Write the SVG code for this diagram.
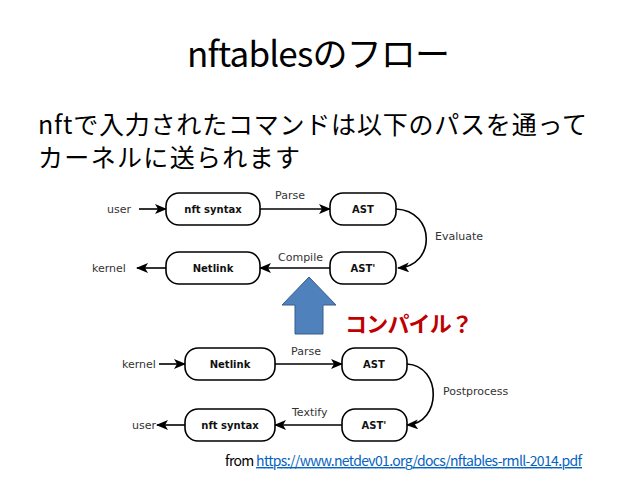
<svg xmlns="http://www.w3.org/2000/svg" width="638" height="479" viewBox="0 0 638 479">
<style>
.jp{font-family:"Noto Sans CJK JP","Noto Sans",sans-serif;fill:#000}
.box{fill:#fff;stroke:#000;stroke-width:1.6}
.bl{font-family:"DejaVu Sans",sans-serif;font-weight:bold;font-size:10px;text-anchor:middle;fill:#111}
.el{font-family:"DejaVu Sans",sans-serif;font-size:11px;fill:#333}
.ln{fill:none;stroke:#000;stroke-width:1.6}
</style>
<defs>
<marker id="ah" markerUnits="userSpaceOnUse" viewBox="0 0 12 10" refX="11" refY="5" markerWidth="12" markerHeight="10" orient="auto">
<path d="M0,0 L12,5 L0,10 L3,5 Z" fill="#000"/>
</marker>
</defs>
<rect width="638" height="479" fill="#fff"/>
<text class="jp" x="187" y="67" font-size="35" textLength="263">nftablesのフロー</text>
<text class="jp" x="38" y="134" font-size="25" textLength="549">nftで入力されたコマンドは以下のパスを通って</text>
<text class="jp" x="38" y="167" font-size="25" textLength="262">カーネルに送られます</text>

<g id="connectors">
<line class="ln" x1="139" y1="209" x2="166" y2="209" marker-end="url(#ah)"/>
<line class="ln" x1="260" y1="209" x2="330" y2="209" marker-end="url(#ah)"/>
<path class="ln" d="M396,209 C436,211 436,266 398,268" marker-end="url(#ah)"/>
<line class="ln" x1="330" y1="268" x2="260" y2="268" marker-end="url(#ah)"/>
<line class="ln" x1="166" y1="268" x2="137" y2="268" marker-end="url(#ah)"/>
<line class="ln" x1="159" y1="364" x2="185" y2="364" marker-end="url(#ah)"/>
<line class="ln" x1="275" y1="364" x2="342" y2="364" marker-end="url(#ah)"/>
<path class="ln" d="M407,364 C442,366 442,423 407,425" marker-end="url(#ah)"/>
<line class="ln" x1="342" y1="425" x2="275" y2="425" marker-end="url(#ah)"/>
<line class="ln" x1="185" y1="425" x2="157" y2="425" marker-end="url(#ah)"/>
<text class="el" x="275" y="199">Parse</text>
<text class="el" x="435" y="240">Evaluate</text>
<text class="el" x="278" y="261">Compile</text>
<text class="el" x="291" y="355">Parse</text>
<text class="el" x="443" y="395">Postprocess</text>
<text class="el" x="292" y="416">Textify</text>
<text class="el" x="107" y="213">user</text>
<text class="el" x="92" y="272">kernel</text>
<text class="el" x="122" y="368">kernel</text>
<text class="el" x="132" y="429">user</text>
</g>

<g id="n-nft1"><rect class="box" x="166" y="193" width="94" height="32" rx="13"/><text class="bl" x="213" y="213">nft syntax</text></g>
<g id="n-ast1"><rect class="box" x="330" y="193" width="66" height="32" rx="13"/><text class="bl" x="363" y="213">AST</text></g>
<g id="n-astp1"><rect class="box" x="330" y="252" width="66" height="32" rx="13"/><text class="bl" x="363" y="272">AST'</text></g>
<g id="n-netlink1"><rect class="box" x="166" y="252" width="94" height="32" rx="13"/><text class="bl" x="213" y="272">Netlink</text></g>

<g id="n-netlink2"><rect class="box" x="185" y="348" width="90" height="32" rx="13"/><text class="bl" x="230" y="368">Netlink</text></g>
<g id="n-ast2"><rect class="box" x="342" y="348" width="65" height="32" rx="13"/><text class="bl" x="374" y="368">AST</text></g>
<g id="n-astp2"><rect class="box" x="342" y="409" width="65" height="32" rx="13"/><text class="bl" x="374" y="429">AST'</text></g>
<g id="n-nft2"><rect class="box" x="185" y="409" width="90" height="32" rx="13"/><text class="bl" x="230" y="429">nft syntax</text></g>

<g id="blue-arrow"><path d="M309,277 L336,305 L323,305 L323,334 L295,334 L295,305 L282,305 Z" fill="#4F81BD" stroke="#385D8A" stroke-width="1"/></g>
<text x="345" y="332" font-family="Noto Sans CJK JP,sans-serif" font-size="22" font-weight="bold" fill="#C00000" textLength="128">コンパイル？</text>

<text class="jp" x="225" y="466" font-size="14" textLength="357">from <tspan fill="#0563C1" text-decoration="underline">https://www.netdev01.org/docs/nftables-rmll-2014.pdf</tspan></text>
</svg>
